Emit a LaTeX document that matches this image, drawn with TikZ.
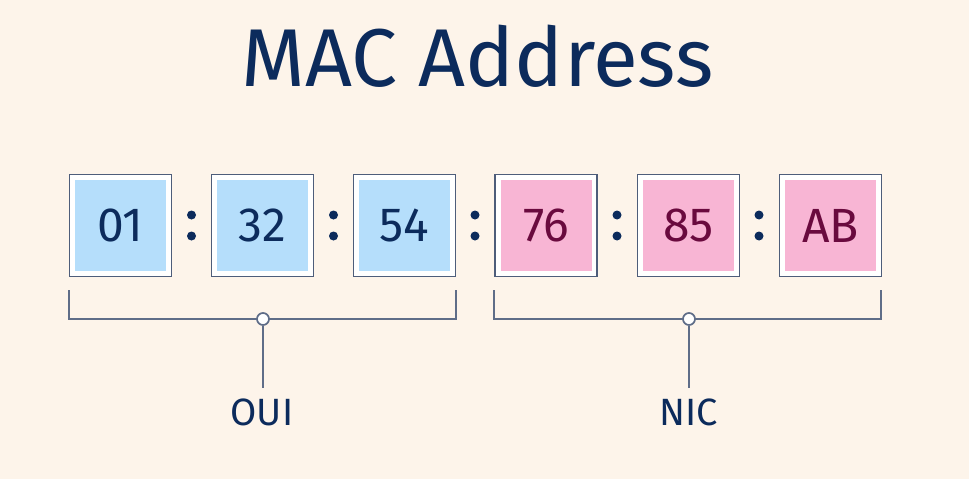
\documentclass[tikz,border=0pt]{standalone}
\usepackage{fontspec}
\setmainfont{Fira Sans}
\definecolor{bg}{HTML}{FDF4EA}
\definecolor{navy}{HTML}{0C2B5C}
\definecolor{maroon}{HTML}{6A0A3E}
\definecolor{frame}{HTML}{4E5D7A}
\definecolor{bluefill}{HTML}{B5DEFB}
\definecolor{pinkfill}{HTML}{F8B5D4}
\definecolor{linec}{HTML}{5F6D88}
\tikzset{
  outerbox/.style={draw=frame, line width=1.8pt, fill=white, minimum size=102pt, inner sep=0pt},
  bluebox/.style={fill=bluefill, minimum size=91pt, inner sep=0pt, text=navy, font=\fontsize{48}{56}\selectfont},
  pinkbox/.style={fill=pinkfill, minimum size=91pt, inner sep=0pt, text=maroon, font=\fontsize{48}{56}\selectfont},
  dot/.style={circle, fill=navy, minimum size=9pt, inner sep=0pt},
  hub/.style={circle, draw=linec, line width=1.7pt, fill=white, minimum size=12pt, inner sep=0pt},
  bracket/.style={draw=linec, line width=1.7pt},
  lbl/.style={text=navy, font=\fontsize{38}{44}\selectfont, inner sep=0pt}
}
\begin{document}
\begin{tikzpicture}[x=1pt,y=-1pt]
\fill[bg] (0,0) rectangle (969,479);
\useasboundingbox (0,0) rectangle (969,479);
% title
\node[text=navy, font=\fontsize{82}{92}\selectfont, anchor=base, inner sep=0pt] (title) at (477.5,86) {MAC Address};
% boxes
\foreach \i/\x/\t/\s in {1/120.5/01/bluebox,2/262.5/32/bluebox,3/404.5/54/bluebox,4/546/76/pinkbox,5/688.5/85/pinkbox,6/830.5/AB/pinkbox}{
  \node[outerbox] (o\i) at (\x,225.5) {};
  \node[\s] (b\i) at (\x,225.5) {\t};
}
% colons
\foreach \i/\x in {1/191.5,2/333.5,3/475,4/617,5/759}{
  \node[dot] (da\i) at (\x,215) {};
  \node[dot] (db\i) at (\x,236) {};
}
% brackets
\coordinate (l1) at (69,290);
\coordinate (l2) at (69,319);
\coordinate (l3) at (456,319);
\coordinate (l4) at (456,290);
\draw[bracket] (l1) -- (l2) -- (l3) -- (l4);
\coordinate (r1) at (494,290);
\coordinate (r2) at (494,319);
\coordinate (r3) at (881,319);
\coordinate (r4) at (881,290);
\draw[bracket] (r1) -- (r2) -- (r3) -- (r4);
\node[hub] (h1) at (263,319) {};
\node[hub] (h2) at (689,319) {};
\node[lbl, anchor=base] (oui) at (262,425) {OUI};
\node[lbl, anchor=base] (nic) at (689,425) {NIC};
\coordinate (e1) at (263,388);
\coordinate (e2) at (689,388);
\draw[bracket] (h1.south) -- (e1);
\draw[bracket] (h2.south) -- (e2);
\end{tikzpicture}
\end{document}
